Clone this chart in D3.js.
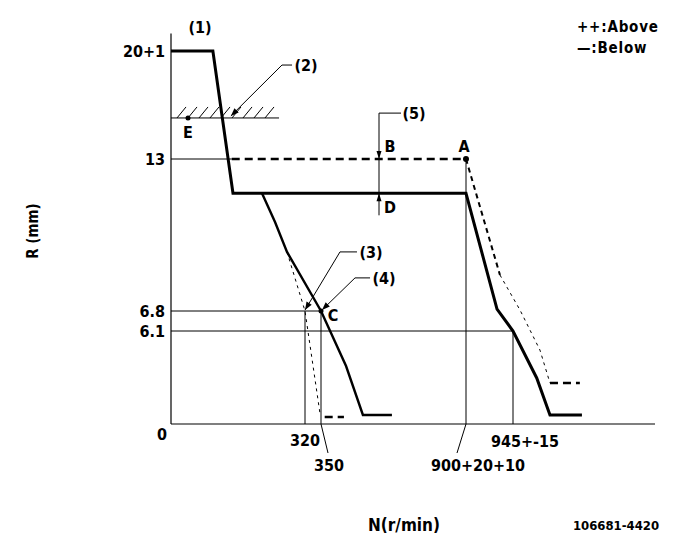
<!DOCTYPE html>
<html><head><meta charset="utf-8">
<script src="https://cdn.jsdelivr.net/npm/d3@7"></script>
<style>
html,body{margin:0;padding:0;background:#fff;}
text{font-family:"DejaVu Sans Condensed","Liberation Sans Narrow","Liberation Sans",Arial,sans-serif;font-stretch:condensed;font-weight:bold;fill:#000;}
</style></head>
<body><svg id="c" width="681" height="549"></svg>
<script>
// ---- schematic scale breakpoints (tick values) ----
const xTickValues = [0, 320, 350, 900, 945];
const xTickLabels = ["0", "320", "350", "900+20+10", "945+-15"];
const yTickValues = [0, 6.1, 6.8, 13, 21];
const yTickLabels = ["0", "6.1", "6.8", "13", "20+1"];
const xMax = 1081, yMax = 22.3;

// ---- curves (N r/min, R mm) ----
const fullLoadN = [0, 100, 148, 900, 929.7, 945, 967.7, 980.4, 1011];
const fullLoadR = [21, 21, 11.6, 11.6, 6.88, 6.1, 3.02, 0.59, 0.59];
const upperN = [900, 932.5, 951.7, 970.8, 980.4];
const upperR = [13, 8.27, 6.84, 4.85, 2.69];
const upperTailN = [980.4, 1009];
const upperTailR = [2.69, 2.69];
const bLineN = [145, 900];   // 13 mm dashed line
const idleN = [217.3, 248.4, 277, 350, 445, 509, 619];
const idleR = [11.6, 10.43, 9.21, 6.8, 3.8, 0.59, 0.59];
const idleLowN = [277, 320, 348];
const idleLowR = [9.21, 6.8, 0.72];
const idleTailN = [364, 437];
const idleTailR = [0.46, 0.46];
const stopR = 16.04, stopN = [0, 258], pointEN = 40.6;
const checkN = 570, checkTopR = 16.4;

const x = d3.scaleLinear().domain(xTickValues).range([171, 305, 321, 466, 513]);
const y = d3.scaleLinear().domain(yTickValues).range([424, 331, 311, 159, 51]);

const svg = d3.select("#c");
const g = svg.append("g");
const line = d3.line().x(d => x(d[0])).y(d => y(d[1]));
const zip = (a, b) => a.map((v, i) => [v, b[i]]);

function path(pts, w, dash) {
  g.append("path").attr("d", line(pts)).attr("fill", "none").attr("stroke", "#000")
    .attr("stroke-width", w).attr("stroke-dasharray", dash || null)
    .attr("stroke-linejoin", "miter");
}
function txt(px, py, s, size, anchor) {
  return g.append("text").attr("x", px).attr("y", py).attr("font-size", size)
    .attr("text-anchor", anchor || "middle").attr("dominant-baseline", "central").text(s);
}

// axes
path([[0, 0], [0, yMax]], 1.2);
path([[0, 0], [xMax, 0]], 1.2);

// reference lines
path([[0, 13], [bLineN[0], 13]], 1);
path([[0, 6.8], [350, 6.8]], 1);
path([[0, 6.1], [945, 6.1]], 1);
path([[320, 0], [320, 6.8]], 1);
path([[350, 0], [350, 6.8]], 1);
path([[900, 0], [900, 13]], 1);
path([[945, 0], [945, 6.1]], 1);

// leaders for bottom labels
g.append("line").attr("x1", x(350)).attr("y1", y(0)).attr("x2", x(350) + 7).attr("y2", y(0) + 29).attr("stroke", "#000");
g.append("line").attr("x1", x(900)).attr("y1", y(0)).attr("x2", x(900) - 9).attr("y2", y(0) + 29).attr("stroke", "#000");

// stop line with hatch
path([[stopN[0], stopR], [stopN[1], stopR]], 1);
for (let px = 177; px <= 266; px += 11) {
  g.append("line").attr("x1", px).attr("y1", y(stopR)).attr("x2", px + 9).attr("y2", y(stopR) - 11)
    .attr("stroke", "#000").attr("stroke-width", 1);
}

// curves
path([[bLineN[0], 13], [bLineN[1], 13]], 2.6, "8,5");
path(zip(fullLoadN, fullLoadR), 3);
path(zip(upperN.slice(0, 2), upperR.slice(0, 2)), 2, "5,4");
path(zip(upperN.slice(1), upperR.slice(1)), 1, "3,4");
path(zip(upperTailN, upperTailR), 2.6, "8,5");
path(zip(idleN, idleR), 2.4);
path(zip(idleLowN, idleLowR), 1, "3,4");
path(zip(idleTailN, idleTailR), 2.6, "8,5");

// points
g.append("circle").attr("cx", x(900)).attr("cy", y(13)).attr("r", 3);
g.append("circle").attr("cx", x(pointEN)).attr("cy", y(stopR)).attr("r", 2.5);
g.append("circle").attr("cx", x(350)).attr("cy", y(6.8)).attr("r", 2.5);

// check line (5)
const cx5 = x(checkN);
g.append("path").attr("d", `M${cx5},${y(11.6) + 22}V${y(checkTopR)}H${cx5 + 22}`).attr("fill", "none").attr("stroke", "#000");
g.append("path").attr("d", `M${cx5 - 2.5},${y(13) - 8}L${cx5 + 2.5},${y(13) - 8}L${cx5},${y(13)}Z`);
g.append("path").attr("d", `M${cx5 - 2.5},${y(11.6) + 8}L${cx5 + 2.5},${y(11.6) + 8}L${cx5},${y(11.6)}Z`);

// leader arrows
function leader(tip, elbow, endX) {
  const [tx, ty] = tip, [ex, ey] = elbow;
  g.append("path").attr("d", `M${tx},${ty}L${ex},${ey}H${endX}`).attr("fill", "none").attr("stroke", "#000");
  const ang = Math.atan2(ey - ty, ex - tx);
  const L = 8, Wd = 3;
  const bx = tx + L * Math.cos(ang), by = ty + L * Math.sin(ang);
  const p1 = [bx + Wd * Math.sin(ang), by - Wd * Math.cos(ang)];
  const p2 = [bx - Wd * Math.sin(ang), by + Wd * Math.cos(ang)];
  g.append("path").attr("d", `M${tx},${ty}L${p1}L${p2}Z`);
}
leader([x(143), y(16.19)], [x(265), y(19.96)], x(289));
leader([x(320), y(6.84)], [x(422), y(9.21)], x(486.5));
leader([x(353.8), y(6.84)], [x(479), y(8.15)], x(536));

// y tick labels
yTickValues.forEach((v, i) => {
  if (i === 0) txt(162, 434, yTickLabels[i], 16);
  else txt(165, y(v), yTickLabels[i], 16, "end");
});
// x tick labels
txt(x(320), 440, xTickLabels[1], 16);
txt(x(350) + 8, 465, xTickLabels[2], 16);
txt(x(900) + 12, 465, xTickLabels[3], 16);
txt(x(945) + 12, 441, xTickLabels[4], 16);

// annotations
txt(200, 27, "(1)", 16);
txt(306, 65, "(2)", 16);
txt(371, 252, "(3)", 16);
txt(384, 278, "(4)", 16);
txt(cx5 + 35, y(checkTopR), "(5)", 16);
txt(cx5 + 11, 146, "B", 16);
txt(cx5 + 11, 207, "D", 16);
txt(x(900) - 2, 146, "A", 16);
txt(333, 315, "C", 16);
txt(188, 132, "E", 16);

// legend
txt(577, 27, "++:Above", 15, "start").attr("letter-spacing", 0.8);
txt(577, 48, "\u2014:Below", 15, "start").attr("letter-spacing", 0.8);

// axis titles
g.append("text").attr("transform", "translate(33,231) rotate(-90)").attr("font-size", 15)
  .attr("text-anchor", "middle").attr("dominant-baseline", "central").text("R (mm)");
txt(404, 525, "N(r/min)", 17);
txt(616, 525, "106681-4420", 13);
</script></body></html>
